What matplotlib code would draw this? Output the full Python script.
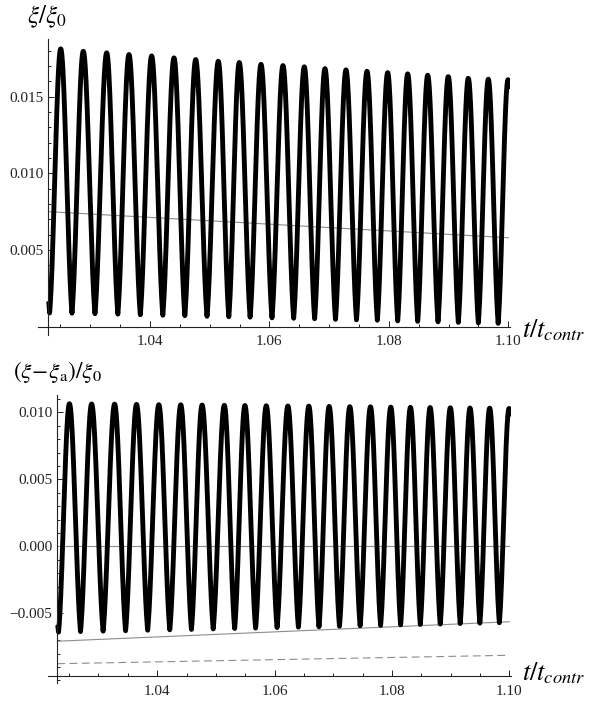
import numpy as np
import matplotlib
matplotlib.use("Agg")
import matplotlib.pyplot as plt
from matplotlib.ticker import MultipleLocator, FixedLocator, FuncFormatter

plt.rcParams["mathtext.fontset"] = "stix"
plt.rcParams["font.family"] = ["Liberation Serif", "DejaVu Serif"]

# ---- data ---------------------------------------------------------------
t_start, t_end = 1.023, 1.1002

# times of the oscillation maxima and minima
peak_t = [1.02505, 1.02883, 1.03275, 1.03648, 1.04028, 1.04402, 1.04765,
          1.05144, 1.05495, 1.05859, 1.06227, 1.06584, 1.06930, 1.07282,
          1.07634, 1.07980, 1.08315, 1.08650, 1.08995, 1.09330, 1.09665,
          1.09995]
trough_t = [1.02320, 1.02694, 1.03079, 1.03462, 1.03838, 1.04215, 1.04584,
            1.04955, 1.05320, 1.05677, 1.06043, 1.06406, 1.06757, 1.07106,
            1.07458, 1.07807, 1.08148, 1.08483, 1.08823, 1.09163, 1.09498,
            1.09830]

# xi / xi0
xi_peaks = [0.01811, 0.01795, 0.01785, 0.01774, 0.01765, 0.01752, 0.01741,
            0.01730, 0.01722, 0.01710, 0.01702, 0.01694, 0.01682, 0.01674,
            0.01665, 0.01656, 0.01648, 0.01639, 0.01630, 0.01619, 0.01613,
            0.01610]
xi_troughs = [0.00090, 0.00088, 0.00085, 0.00082, 0.00078, 0.00075, 0.00072,
              0.00068, 0.00065, 0.00062, 0.00058, 0.00055, 0.00052, 0.00048,
              0.00045, 0.00042, 0.00038, 0.00035, 0.00032, 0.00028, 0.00025,
              0.00022]
xi_start, xi_end = 0.0017, 0.0155
xi_a_t = [1.023, 1.100]
xi_a = [0.0075, 0.0058]

# (xi - xi_a) / xi0
dxi_peaks = [0.01065, 0.01063, 0.01062, 0.01060, 0.01058, 0.01057, 0.01055,
             0.01053, 0.01052, 0.01050, 0.01048, 0.01047, 0.01045, 0.01043,
             0.01042, 0.01040, 0.01038, 0.01037, 0.01035, 0.01033, 0.01032,
             0.01030]
dxi_troughs = [-0.00640, -0.00636, -0.00633, -0.00630, -0.00626, -0.00623,
               -0.00620, -0.00616, -0.00613, -0.00610, -0.00606, -0.00603,
               -0.00600, -0.00596, -0.00593, -0.00590, -0.00586, -0.00583,
               -0.00580, -0.00576, -0.00573, -0.00570]
dxi_start, dxi_end = -0.0058, 0.0097
lower_t = [1.023, 1.100]
lower_solid = [-0.00708, -0.00563]
lower_dashed = [-0.00876, -0.00813]


def oscillation(t0, v0, troughs_t, troughs_v, peaks_t, peaks_v, t1, v1,
                n=40, sharp=0.3):
    """Join the extrema with arcs that are round at crests and pointed at dips."""
    et = [t0]
    ev = [v0]
    for a, b, c, d in zip(troughs_t, troughs_v, peaks_t, peaks_v):
        et += [a, c]
        ev += [b, d]
    et.append(t1)
    ev.append(v1)
    ts, vs = [], []
    for i in range(len(et) - 1):
        s = np.linspace(0, 1, n, endpoint=False)
        smooth = (1 - np.cos(np.pi * s)) / 2
        if ev[i + 1] > ev[i]:
            w = sharp * np.sin(np.pi / 2 * s) + (1 - sharp) * smooth
        else:
            w = sharp * (1 - np.cos(np.pi / 2 * s)) + (1 - sharp) * smooth
        ts.append(et[i] + s * (et[i + 1] - et[i]))
        vs.append(ev[i] + w * (ev[i + 1] - ev[i]))
    ts.append([et[-1]])
    vs.append([ev[-1]])
    return np.concatenate(ts), np.concatenate(vs)


W, H = 589, 701
fig = plt.figure(figsize=(W / 100, H / 100), dpi=100)


def px_axes(x0, y0, x1, y1):
    return fig.add_axes([x0 / W, 1 - y1 / H, (x1 - x0) / W, (y1 - y0) / H])


axis_col = "#222222"
grey = "#8c8c8c"


def style(ax, yl, ylabels, y_origin):
    for s in ("top", "right"):
        ax.spines[s].set_visible(False)
    ax.spines["left"].set_position(("data", t_start))
    ax.spines["bottom"].set_position(("data", y_origin))
    for s in ("left", "bottom"):
        ax.spines[s].set_color(axis_col)
        ax.spines[s].set_linewidth(0.8)
    ax.xaxis.set_major_locator(FixedLocator([1.04, 1.06, 1.08, 1.10]))
    ax.xaxis.set_minor_locator(MultipleLocator(0.005))
    ax.yaxis.set_major_locator(FixedLocator(ylabels))
    ax.yaxis.set_minor_locator(MultipleLocator(0.001))
    ax.xaxis.set_major_formatter(FuncFormatter(lambda v, p: f"{v:.2f}"))
    ax.yaxis.set_major_formatter(
        FuncFormatter(lambda v, p: f"{v:.3f}".replace("-", "\u2212")))
    ax.tick_params(which="both", direction="in", color=axis_col, width=0.7,
                   labelsize=11, labelcolor="#222222")
    ax.tick_params(which="major", length=4.0)
    ax.tick_params(which="minor", length=2.3)
    ax.tick_params(axis="x", pad=6)
    ax.tick_params(axis="y", pad=3.5)
    ax.set_ylim(*yl)


# ---- upper panel --------------------------------------------------------
ax1 = px_axes(38, 39, 509.5, 335)
ax1.set_xlim(1.02125, 1.1002)
style(ax1, (-0.00054, 0.01875), [0.005, 0.010, 0.015], 0.0)
ax1.plot(xi_a_t, xi_a, color=grey, lw=0.8)
tt, vv = oscillation(t_start, xi_start, trough_t, xi_troughs, peak_t, xi_peaks,
                     t_end, xi_end)
ax1.plot(tt, vv, color="black", lw=3.5, solid_joinstyle="round",
         solid_capstyle="butt")

# ---- lower panel --------------------------------------------------------
ax2 = px_axes(48, 395, 510.5, 683)
ax2.set_xlim(1.0214, 1.1002)
style(ax2, (-0.0102, 0.0113), [-0.005, 0.0, 0.005, 0.010], -0.0097)
ax2.plot([t_start, 1.100], [0.0, 0.0], color=grey, lw=0.8)
ax2.plot(lower_t, lower_solid, color=grey, lw=0.8)
ax2.plot(lower_t, lower_dashed, color=grey, lw=0.8, dashes=(7, 4))
tt, vv = oscillation(t_start, dxi_start, trough_t, dxi_troughs, peak_t,
                     dxi_peaks, t_end, dxi_end)
ax2.plot(tt, vv, color="black", lw=3.5, solid_joinstyle="round",
         solid_capstyle="butt")

# ---- axis labels --------------------------------------------------------
fig.text(27 / W, 1 - 17 / H, r"$\xi/\xi_0$", fontsize=18, va="center",
         ha="left")
fig.text(13 / W, 1 - 372 / H, r"$(\xi\!-\!\xi_{\mathrm{a}})/\xi_0$",
         fontsize=16.8, va="center", ha="left")
fig.text(522 / W, 1 - 330 / H, r"$t/t_{contr}$", fontsize=19, va="center",
         ha="left")
fig.text(522 / W, 1 - 673 / H, r"$t/t_{contr}$", fontsize=19, va="center",
         ha="left")

fig.savefig("out.png", dpi=100)
